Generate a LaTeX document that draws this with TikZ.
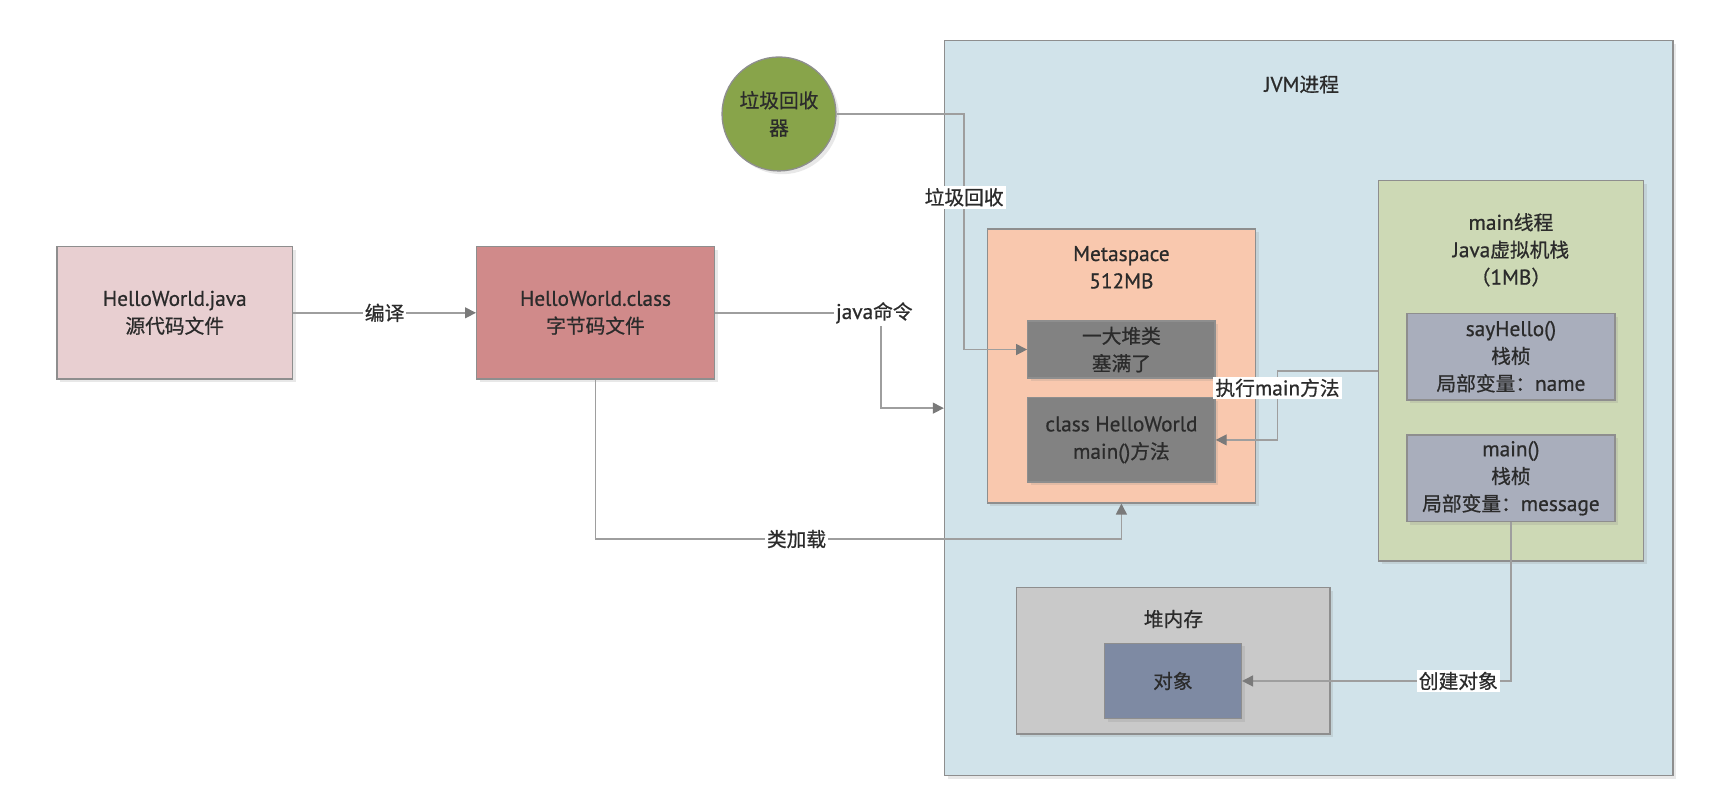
\documentclass[tikz,border=0pt]{standalone}
\usepackage{fontspec}
\setmainfont{PT Sans}[Scale=1.08,FakeBold=0.7]
\newfontfamily\cjkfont{Noto Sans CJK SC}[FakeBold=0.7]
% switch to the CJK face for ideographs and full-width signs
\newcount\cjkc
\cjkc="4E00
\loop \XeTeXcharclass\cjkc=1 \advance\cjkc by 1 \ifnum\cjkc<"A000 \repeat
\XeTeXcharclass"FF08=1 \XeTeXcharclass"FF09=1 \XeTeXcharclass"FF1A=1
\XeTeXinterchartokenstate=1
\XeTeXinterchartoks 0 1 = {\cjkfont}
\XeTeXinterchartoks 4095 1 = {\cjkfont}
\XeTeXinterchartoks 1 0 = {\rmfamily}
\usetikzlibrary{arrows.meta,shadows}

\definecolor{txtcol}{HTML}{2B2B2B}
\definecolor{edgecol}{HTML}{8E8E8E}
\definecolor{linecol}{HTML}{9E9E9E}
\definecolor{tipcol}{HTML}{7A7A7A}
\definecolor{jvmfill}{HTML}{D1E3EA}
\definecolor{srcfill}{HTML}{E8CFD1}
\definecolor{clsfill}{HTML}{D08A8A}
\definecolor{gcfill}{HTML}{88A44A}
\definecolor{metafill}{HTML}{F9C8AE}
\definecolor{grayfill}{HTML}{828282}
\definecolor{stackfill}{HTML}{CDD9B5}
\definecolor{framefill}{HTML}{A9AEBC}
\definecolor{heapfill}{HTML}{C9C9C9}
\definecolor{objfill}{HTML}{7E8AA3}

\begin{document}
\begin{tikzpicture}[x=0.5pt,y=-0.5pt,
  font=\fontsize{9}{12.5}\selectfont, text=txtcol,
  box/.style={draw=edgecol, line width=0.6pt, align=center, inner sep=2pt,
    drop shadow={shadow xshift=1.5pt, shadow yshift=-1.5pt, opacity=0.18}},
  lbl/.style={fill=white, inner sep=1pt},
  conn/.style={draw=linecol, line width=0.65pt, -{Triangle[length=5pt,width=5pt,color=tipcol]}}]
  \useasboundingbox (0,0) rectangle (1568,741);

  % JVM process
  \node[box, fill=jvmfill, minimum width=332.5pt, minimum height=335.5pt] (jvm) at (1194.5,372.5) {};
  \node (jvmtitle) at (1188,77) {JVM进程};

  % source and class file
  \node[box, fill=srcfill, minimum width=107.5pt, minimum height=60.5pt] (src) at (159.5,285.5) {HelloWorld.java\\源代码文件};
  \node[box, fill=clsfill, minimum width=108.5pt, minimum height=60.5pt] (cls) at (543.5,285.5) {HelloWorld.class\\字节码文件};

  % garbage collector
  \node[box, circle, fill=gcfill, minimum size=52pt] (gc) at (711,104) {垃圾回收\\器};

  % metaspace
  \node[box, fill=metafill, minimum width=122.5pt, minimum height=125pt] (meta) at (1023.5,334) {};
  \node[align=center] (metatitle) at (1023.5,244) {Metaspace\\512MB};
  \node[box, fill=grayfill, minimum width=85.5pt, minimum height=26pt] (full) at (1023.5,319) {一大堆类\\塞满了};
  \node[box, fill=grayfill, minimum width=85.5pt, minimum height=38.5pt] (hw) at (1023.5,401.5) {class HelloWorld\\main()方法};

  % main thread stack
  \node[box, fill=stackfill, minimum width=121pt, minimum height=173.5pt] (stack) at (1379,338.5) {};
  \node[align=center] (stacktitle) at (1379,228) {main线程\\Java虚拟机栈\\（1MB）};
  \node[box, fill=framefill, minimum width=95pt, minimum height=39.5pt] (sayh) at (1379,325.5) {sayHello()\\栈桢\\局部变量：name};
  \node[box, fill=framefill, minimum width=95pt, minimum height=39.5pt] (mainf) at (1379,436.5) {main()\\栈桢\\局部变量：message};

  % heap
  \node[box, fill=heapfill, minimum width=143pt, minimum height=67pt] (heap) at (1071,603) {};
  \node (heaptitle) at (1071,565) {堆内存};
  \node[box, fill=objfill, minimum width=62.5pt, minimum height=34.5pt] (obj) at (1070.5,621.5) {对象};

  % connectors
  \draw[conn] (src) -- node[lbl] {编译} (cls);

  \coordinate (jbend) at (804,285.5);
  \draw[conn] (cls.east) -- (jbend) |- (jvm.west);
  \node[lbl] (jcmd) at (798,285.5) {java命令};

  \coordinate (gbend) at (880,104);
  \draw[conn] (gc.east) -- (gbend) |- (full.west);
  \node[lbl] (gclbl) at (880,180) {垃圾回收};

  \coordinate (ldbend) at (1023.5,492);
  \draw[conn] (cls.south) |- (ldbend) -- (meta.south);
  \node[lbl] (ldlbl) at (727,492) {类加载};

  \coordinate (ebend) at (1166,338.5);
  \draw[conn] (stack.west) -- (ebend) |- (hw.east);
  \node[lbl] (exlbl) at (1166,354) {执行main方法};

  \draw[conn] (mainf.south) |- (obj.east);
  \node[lbl] (newlbl) at (1331,621.5) {创建对象};
\end{tikzpicture}
\end{document}
